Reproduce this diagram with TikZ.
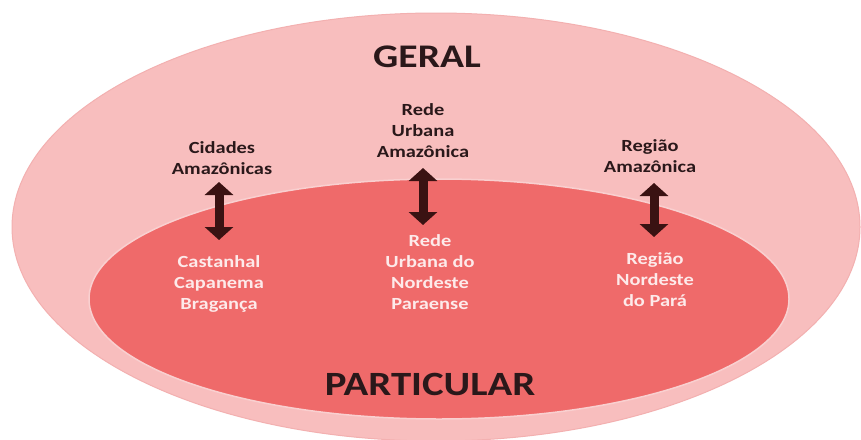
\documentclass[tikz,border=0pt]{standalone}
\usepackage{fontspec}
\setmainfont{Carlito}
\usetikzlibrary{arrows.meta}
\definecolor{outerpink}{HTML}{F8BEBE}
\definecolor{outeredge}{HTML}{F3B0B0}
\definecolor{innerred}{HTML}{EF6A6A}
\definecolor{inneredge}{HTML}{F9D0D0}
\definecolor{txtdark}{HTML}{2A181A}
\definecolor{txtlight}{HTML}{FDEAEA}
\definecolor{arrowcol}{HTML}{3A1212}
\begin{document}
\begin{tikzpicture}[x=1pt,y=-1pt,
  darktxt/.style={font=\fontsize{17}{21}\selectfont\bfseries, text=txtdark, align=center, inner sep=0pt, xscale=1.2},
  lighttxt/.style={font=\fontsize{17}{21}\selectfont\bfseries, text=txtlight, align=center, inner sep=0pt, xscale=1.2},
  titletxt/.style={text=txtdark, inner sep=0pt, xscale=1.2},
  dblarrow/.style={draw=arrowcol, line width=9pt, {Triangle[width=28pt,length=13pt]}-{Triangle[width=28pt,length=13pt]}}
]
\useasboundingbox (0,0) rectangle (861,439);
\fill[white] (0,0) rectangle (861,439);
% outer ellipse (general)
\filldraw[fill=outerpink, draw=outeredge, line width=1pt] (436,227) ellipse [x radius=424, y radius=214];
% inner ellipse (particular)
\filldraw[fill=innerred, draw=inneredge, line width=1.5pt] (439,299) ellipse [x radius=350, y radius=120];

% titles
\node[titletxt, font=\fontsize{33}{40}\selectfont\bfseries] (geral) at (427,57) {GERAL};
\node[titletxt, font=\fontsize{34}{41}\selectfont\bfseries] (particular) at (430,384) {PARTICULAR};

% general labels
\node[darktxt] (g1) at (222,158) {Cidades\\Amazônicas};
\node[darktxt] (g2) at (423,131) {Rede\\Urbana\\Amazônica};
\node[darktxt] (g3) at (650,156) {Região\\Amazônica};

% particular labels
\node[lighttxt] (p1) at (219,284) {Castanhal\\Capanema\\Bragança};
\node[lighttxt] (p2) at (430,272) {Rede\\Urbana do\\Nordeste\\Paraense};
\node[lighttxt] (p3) at (655,280) {Região\\Nordeste\\do Pará};

% arrow ends
\coordinate (a1t) at (219,182);
\coordinate (a1b) at (219,240);
\coordinate (a2t) at (423,168);
\coordinate (a2b) at (423,225);
\coordinate (a3t) at (654,183);
\coordinate (a3b) at (654,237);

\draw[dblarrow] (a1t) -- (a1b);
\draw[dblarrow] (a2t) -- (a2b);
\draw[dblarrow] (a3t) -- (a3b);
\end{tikzpicture}
\end{document}
